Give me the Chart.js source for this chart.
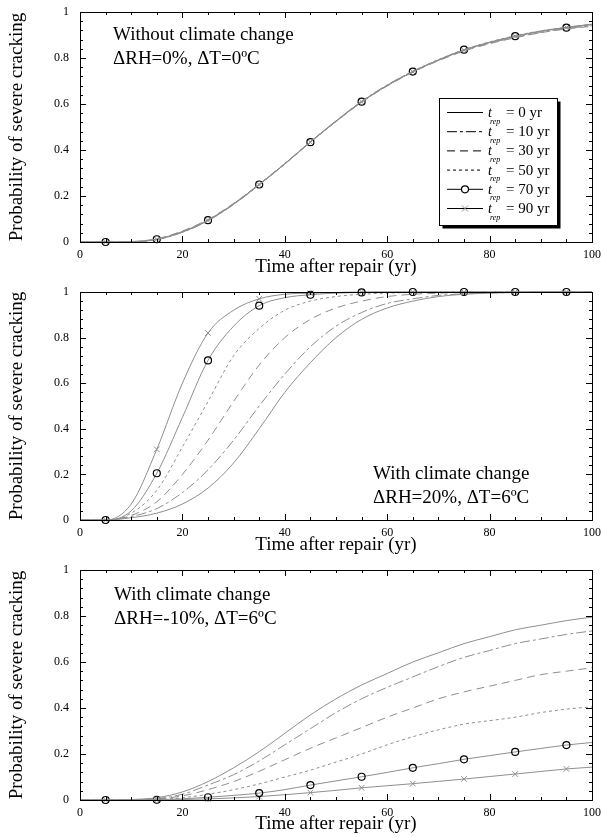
<!DOCTYPE html>
<html>
<head>
<meta charset="utf-8">
<script src="https://cdn.jsdelivr.net/npm/chart.js@4.4.0/dist/chart.umd.min.js"></script>
<style>
  body { margin: 0; background: #fff; }
  #wrap { position: relative; width: 601px; height: 837px; }
  canvas { position: absolute; left: 0; }
</style>
</head>
<body>
<div id="wrap">
  <canvas id="c1" width="601" height="280" style="top:0px"></canvas>
  <canvas id="c2" width="601" height="278" style="top:280px"></canvas>
  <canvas id="c3" width="601" height="279" style="top:558px"></canvas>
</div>
<script>
// time after repair (yr)
const years = [0, 5, 10, 15, 20, 25, 30, 35, 40, 45, 50, 55, 60, 65, 70, 75, 80, 85, 90, 95, 100];
const repTimes = [0, 10, 30, 50, 70, 90];

const xTicks = [0, 20, 40, 60, 80, 100];
const xTickLabels = ['0', '20', '40', '60', '80', '100'];
const yTicks = [0, 0.2, 0.4, 0.6, 0.8, 1];
const yTickLabels = ['0', '0.2', '0.4', '0.6', '0.8', '1'];

// panel 1 : without climate change
const noChange0  = [0, 0, 0.001, 0.012, 0.045, 0.095, 0.165, 0.25, 0.34, 0.435, 0.525, 0.61, 0.68, 0.74, 0.79, 0.835, 0.868, 0.895, 0.917, 0.933, 0.947];
const noChange10 = [0, 0, 0.001, 0.010, 0.042, 0.092, 0.163, 0.248, 0.34, 0.436, 0.527, 0.612, 0.683, 0.742, 0.79, 0.832, 0.864, 0.89, 0.911, 0.928, 0.94];
const noChange30 = [0, 0, 0.002, 0.014, 0.048, 0.098, 0.168, 0.252, 0.342, 0.436, 0.524, 0.607, 0.678, 0.738, 0.788, 0.83, 0.862, 0.888, 0.91, 0.926, 0.938];
const noChange50 = [0, 0, 0.001, 0.013, 0.046, 0.096, 0.166, 0.251, 0.341, 0.435, 0.526, 0.611, 0.682, 0.743, 0.793, 0.837, 0.87, 0.897, 0.918, 0.934, 0.946];
const noChange70 = [0, 0, 0.001, 0.012, 0.044, 0.095, 0.166, 0.25, 0.339, 0.434, 0.524, 0.61, 0.68, 0.741, 0.791, 0.836, 0.868, 0.895, 0.916, 0.932, 0.945];
const noChange90 = [0, 0, 0.001, 0.011, 0.043, 0.093, 0.164, 0.249, 0.339, 0.434, 0.525, 0.609, 0.681, 0.74, 0.792, 0.834, 0.867, 0.894, 0.916, 0.933, 0.946];

// panel 2 : dRH = 20%, dT = 6C
const wet0  = [0, 0, 0.01, 0.03, 0.07, 0.14, 0.25, 0.40, 0.56, 0.69, 0.80, 0.88, 0.93, 0.96, 0.98, 0.99, 0.995, 0.998, 1, 1, 1];
const wet10 = [0, 0, 0.015, 0.05, 0.12, 0.22, 0.35, 0.50, 0.64, 0.76, 0.85, 0.91, 0.95, 0.97, 0.985, 0.992, 0.996, 0.998, 1, 1, 1];
const wet30 = [0, 0, 0.02, 0.08, 0.20, 0.35, 0.52, 0.68, 0.80, 0.88, 0.93, 0.96, 0.98, 0.99, 0.995, 0.998, 1, 1, 1, 1, 1];
const wet50 = [0, 0, 0.03, 0.13, 0.32, 0.52, 0.72, 0.84, 0.92, 0.96, 0.98, 0.99, 0.995, 0.998, 1, 1, 1, 1, 1, 1, 1];
const wet70 = [0, 0, 0.04, 0.205, 0.45, 0.70, 0.85, 0.94, 0.975, 0.988, 0.995, 0.998, 1, 1, 1, 1, 1, 1, 1, 1, 1];
const wet90 = [0, 0, 0.07, 0.31, 0.60, 0.82, 0.92, 0.97, 0.99, 0.995, 0.998, 1, 1, 1, 1, 1, 1, 1, 1, 1, 1];

// panel 3 : dRH = -10%, dT = 6C
const dry0  = [0, 0, 0.002, 0.01, 0.035, 0.08, 0.14, 0.21, 0.29, 0.37, 0.44, 0.50, 0.55, 0.60, 0.64, 0.68, 0.71, 0.74, 0.76, 0.78, 0.795];
const dry10 = [0, 0, 0.001, 0.006, 0.025, 0.065, 0.11, 0.17, 0.24, 0.31, 0.38, 0.44, 0.49, 0.535, 0.58, 0.62, 0.65, 0.68, 0.70, 0.72, 0.735];
const dry30 = [0, 0, 0, 0.004, 0.018, 0.045, 0.08, 0.125, 0.175, 0.225, 0.27, 0.315, 0.36, 0.40, 0.44, 0.47, 0.495, 0.52, 0.545, 0.56, 0.575];
const dry50 = [0, 0, 0, 0.002, 0.01, 0.025, 0.045, 0.07, 0.1, 0.13, 0.165, 0.2, 0.24, 0.275, 0.305, 0.33, 0.345, 0.36, 0.38, 0.395, 0.405];
const dry70 = [0, 0, 0, 0.001, 0.005, 0.012, 0.02, 0.03, 0.045, 0.065, 0.083, 0.101, 0.12, 0.14, 0.158, 0.177, 0.193, 0.209, 0.224, 0.239, 0.25];
const dry90 = [0, 0, 0, 0, 0.002, 0.005, 0.009, 0.015, 0.023, 0.032, 0.042, 0.053, 0.062, 0.071, 0.081, 0.091, 0.102, 0.113, 0.124, 0.135, 0.143];

const SERIF = "'Liberation Serif', 'Times New Roman', serif";
const GREY = '#8e8e8e';

// line look for each repair time
const looks = [
  { dash: [] },
  { dash: [10, 3, 3, 3] },
  { dash: [8, 5] },
  { dash: [3, 3] },
  { dash: [], marker: 'circle' },
  { dash: [], marker: 'crossRot' }
];

function makeSets(series) {
  return series.map(function(vals, i) {
    const lk = looks[i];
    return {
      label: 't_rep = ' + repTimes[i] + ' yr',
      data: years.map((x, j) => ({ x: x, y: vals[j] })),
      borderColor: GREY,
      borderWidth: 1,
      borderDash: lk.dash,
      cubicInterpolationMode: 'monotone',
      clip: false,
      pointStyle: lk.marker || 'circle',
      pointRadius: lk.marker ? (c) => (c.dataIndex % 2 === 1 ? (lk.marker === 'circle' ? 3.5 : 4) : 0) : 0,
      pointBorderColor: lk.marker === 'circle' ? '#000' : GREY,
      pointBackgroundColor: 'rgba(0,0,0,0)',
      pointBorderWidth: lk.marker === 'circle' ? 1.2 : 1
    };
  });
}

// box with inward ticks on all four sides
const framePlugin = {
  id: 'frame',
  afterDatasetsDraw(chart) {
    const ctx = chart.ctx;
    const a = chart.chartArea;
    const xs = chart.scales.x, ys = chart.scales.y;
    ctx.save();
    ctx.strokeStyle = '#000';
    ctx.lineWidth = 1;
    ctx.strokeRect(a.left + 0.5, a.top + 0.5, a.right - a.left, a.bottom - a.top);
    ctx.beginPath();
    for (let v = 0; v <= 100; v += 5) {
      const px = Math.round(xs.getPixelForValue(v)) + 0.5;
      const len = v % 20 === 0 ? 6 : 3;
      ctx.moveTo(px, a.top); ctx.lineTo(px, a.top + len);
      ctx.moveTo(px, a.bottom); ctx.lineTo(px, a.bottom - len);
    }
    for (let k = 0; k <= 25; k++) {
      const py = Math.round(ys.getPixelForValue(k * 0.04)) + 0.5;
      const len = k % 5 === 0 ? 6 : 3;
      ctx.moveTo(a.left, py); ctx.lineTo(a.left + len, py);
      ctx.moveTo(a.right, py); ctx.lineTo(a.right - len, py);
    }
    ctx.stroke();
    ctx.restore();
  }
};

// text note inside the plot
const notePlugin = {
  id: 'note',
  afterDraw(chart, args, opts) {
    if (!opts.lines) return;
    const ctx = chart.ctx;
    const a = chart.chartArea;
    ctx.save();
    ctx.fillStyle = '#000';
    ctx.font = '19px ' + SERIF;
    ctx.textBaseline = 'alphabetic';
    opts.lines.forEach(function(t, i) {
      ctx.fillText(t, a.left + opts.dx, a.top + opts.dy + i * 23.5);
    });
    ctx.restore();
  }
};

// legend box of the first panel
const keyPlugin = {
  id: 'key',
  afterDraw(chart) {
    const ctx = chart.ctx;
    const bx = 439.5, by = 98.5, bw = 118, bh = 127;
    ctx.save();
    ctx.fillStyle = '#000';
    ctx.fillRect(bx + 3, by + 3, bw, bh);
    ctx.fillStyle = '#fff';
    ctx.fillRect(bx, by, bw, bh);
    ctx.strokeStyle = '#000';
    ctx.lineWidth = 1;
    ctx.strokeRect(bx, by, bw, bh);
    repTimes.forEach(function(t, i) {
      const y = 112.5 + i * 19.2;
      const lk = looks[i];
      ctx.beginPath();
      ctx.setLineDash(lk.dash);
      ctx.strokeStyle = '#000';
      ctx.moveTo(447, y);
      ctx.lineTo(483, y);
      ctx.stroke();
      ctx.setLineDash([]);
      if (lk.marker === 'circle') {
        ctx.beginPath();
        ctx.fillStyle = '#fff';
        ctx.arc(465, y, 3.5, 0, Math.PI * 2);
        ctx.fill();
        ctx.lineWidth = 1.2;
        ctx.stroke();
        ctx.lineWidth = 1;
      } else if (lk.marker === 'crossRot') {
        ctx.beginPath();
        ctx.strokeStyle = GREY;
        ctx.moveTo(462, y - 3); ctx.lineTo(468, y + 3);
        ctx.moveTo(468, y - 3); ctx.lineTo(462, y + 3);
        ctx.stroke();
      }
      ctx.fillStyle = '#000';
      ctx.textBaseline = 'alphabetic';
      ctx.font = 'italic 14px ' + SERIF;
      ctx.fillText('t', 488, y + 4.5);
      ctx.font = 'italic 8px ' + SERIF;
      ctx.fillText('rep', 490, y + 11);
      ctx.font = '15px ' + SERIF;
      ctx.fillText('= ' + t + ' yr', 506, y + 4.5);
    });
    ctx.restore();
  }
};

function makeChart(id, series, note, axisH, extra) {
  const plugins = [framePlugin, notePlugin];
  if (extra) plugins.push(extra);
  return new Chart(document.getElementById(id), {
    type: 'line',
    data: { datasets: makeSets(series) },
    plugins: plugins,
    options: {
      responsive: false,
      animation: false,
      devicePixelRatio: 1,
      layout: { padding: { top: 12, right: 9, left: 0, bottom: 0 } },
      plugins: {
        legend: { display: false },
        tooltip: { enabled: false },
        note: note
      },
      scales: {
        x: {
          type: 'linear',
          min: 0,
          max: 100,
          afterFit: (s) => { s.height = axisH; s.paddingLeft = 0; s.paddingRight = 0; },
          afterBuildTicks: (s) => { s.ticks = xTicks.map(v => ({ value: v })); },
          grid: { display: false, drawTicks: false },
          border: { display: false },
          ticks: {
            autoSkip: false,
            maxRotation: 0,
            padding: 6,
            color: '#000',
            font: { family: SERIF, size: 12 },
            callback: (v, i) => xTickLabels[i]
          },
          title: {
            display: true,
            text: 'Time after repair (yr)',
            color: '#000',
            font: { family: SERIF, size: 19 },
            padding: { top: 0, bottom: 2 }
          }
        },
        y: {
          min: 0,
          max: 1,
          afterFit: (s) => { s.width = 80; s.paddingTop = 0; s.paddingBottom = 0; },
          afterBuildTicks: (s) => { s.ticks = yTicks.map(v => ({ value: v })); },
          grid: { display: false, drawTicks: false },
          border: { display: false },
          ticks: {
            autoSkip: false,
            padding: 11,
            color: '#000',
            font: { family: SERIF, size: 12 },
            callback: (v, i) => yTickLabels[i]
          },
          title: {
            display: true,
            text: 'Probability of severe cracking',
            color: '#000',
            font: { family: SERIF, size: 19 },
            padding: { top: 6, bottom: 0 }
          }
        }
      }
    }
  });
}

makeChart('c1', [noChange0, noChange10, noChange30, noChange50, noChange70, noChange90],
  { lines: ['Without climate change', 'ΔRH=0%, ΔT=0ºC'], dx: 33, dy: 28 }, 38, keyPlugin);
makeChart('c2', [wet0, wet10, wet30, wet50, wet70, wet90],
  { lines: ['With climate change', 'ΔRH=20%, ΔT=6ºC'], dx: 293, dy: 187 }, 38);
makeChart('c3', [dry0, dry10, dry30, dry50, dry70, dry90],
  { lines: ['With climate change', 'ΔRH=-10%, ΔT=6ºC'], dx: 34, dy: 30 }, 37);
</script>
</body>
</html>
